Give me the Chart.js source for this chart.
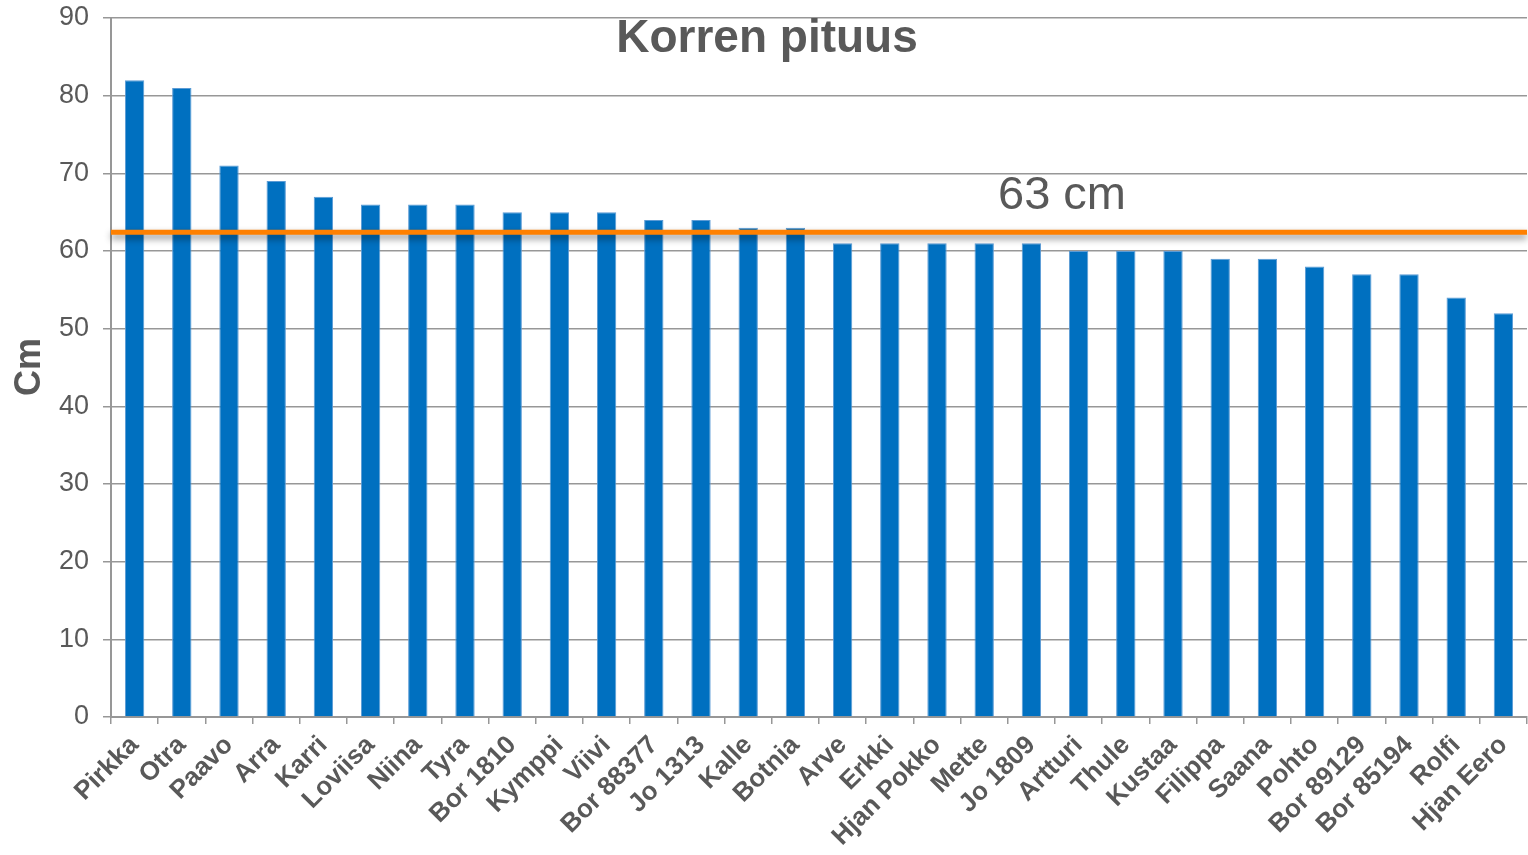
<!DOCTYPE html>
<html lang="fi">
<head>
    <meta charset="UTF-8">
    <title>Korren pituus</title>
    <script src="https://cdn.jsdelivr.net/npm/chart.js@4.4.0/dist/chart.umd.min.js"></script>
    <style>
        html, body { margin: 0; padding: 0; background: #ffffff; }
        #wrap { width: 1528px; height: 855px; position: relative; }
    </style>
</head>
<body>
<div id="wrap"><canvas id="chart"></canvas></div>
<script>
    // data
    var lajikkeet = ['Pirkka', 'Otra', 'Paavo', 'Arra', 'Karri', 'Loviisa', 'Niina', 'Tyra', 'Bor 1810', 'Kymppi',
        'Viivi', 'Bor 88377', 'Jo 1313', 'Kalle', 'Botnia', 'Arve', 'Erkki', 'Hjan Pokko', 'Mette', 'Jo 1809',
        'Artturi', 'Thule', 'Kustaa', 'Filippa', 'Saana', 'Pohto', 'Bor 89129', 'Bor 85194', 'Rolfi', 'Hjan Eero'];
    var pituus = [82, 81, 71, 69, 67, 66, 66, 66, 65, 65,
        65, 64, 64, 63, 63, 61, 61, 61, 61, 61,
        60, 60, 60, 59, 59, 58, 57, 57, 54, 52];
    var yTicks = [0, 10, 20, 30, 40, 50, 60, 70, 80, 90];
    var keskiarvo = 62.4;
    var keskiarvoTeksti = '63 cm';
    var otsikko = 'Korren pituus';
    var yOtsikko = 'Cm';

    var grey = '#595959';
    var lineGrey = '#979797';
    var fontFam = "Arial, 'Liberation Sans', sans-serif";

    // title, axis title and the orange reference line
    var extras = {
        id: 'extras',
        afterDatasetsDraw: function (chart) {
            var ctx = chart.ctx;
            var area = chart.chartArea;
            var y = chart.scales.y.getPixelForValue(keskiarvo);
            ctx.save();
            ctx.shadowColor = 'rgba(0,0,0,0.45)';
            ctx.shadowBlur = 7;
            ctx.shadowOffsetY = 4;
            ctx.strokeStyle = '#FF8000';
            ctx.lineWidth = 5;
            ctx.beginPath();
            ctx.moveTo(area.left, y);
            ctx.lineTo(area.right, y);
            ctx.stroke();
            ctx.restore();

            ctx.save();
            ctx.fillStyle = grey;
            ctx.textAlign = 'left';
            ctx.textBaseline = 'middle';
            ctx.font = '47px ' + fontFam;
            ctx.fillText(keskiarvoTeksti, 998, 196);

            ctx.textAlign = 'center';
            ctx.font = 'bold 46px ' + fontFam;
            ctx.fillText(otsikko, 767, 39);

            ctx.translate(30, 367);
            ctx.rotate(-Math.PI / 2);
            ctx.font = 'bold 36px ' + fontFam;
            ctx.fillText(yOtsikko, 0, 0);
            ctx.restore();
        }
    };

    new Chart(document.getElementById('chart').getContext('2d'), {
        type: 'bar',
        data: {
            labels: lajikkeet,
            datasets: [{
                data: pituus,
                backgroundColor: '#0070C0',
                borderColor: '#5B9BD5',
                borderWidth: 1,
                barPercentage: 0.41,
                categoryPercentage: 1
            }]
        },
        options: {
            responsive: true,
            maintainAspectRatio: false,
            animation: false,
            layout: { padding: { top: 18, right: 1, left: 0, bottom: 0 } },
            plugins: {
                legend: { display: false },
                title: { display: false },
                tooltip: { enabled: false }
            },
            scales: {
                x: {
                    afterFit: function (scale) {
                        scale.height = 138;
                        scale.paddingLeft = 0;
                        scale.paddingRight = 0;
                    },
                    grid: {
                        drawOnChartArea: false,
                        drawTicks: true,
                        tickLength: 7,
                        color: lineGrey,
                        lineWidth: 1.5
                    },
                    border: { color: lineGrey, width: 2 },
                    ticks: {
                        autoSkip: false,
                        minRotation: 45,
                        maxRotation: 45,
                        padding: 6,
                        color: grey,
                        font: { family: fontFam, size: 26, weight: 'bold' }
                    }
                },
                y: {
                    min: 0,
                    max: 90,
                    afterFit: function (scale) {
                        scale.width = 111;
                        scale.paddingTop = 0;
                        scale.paddingBottom = 0;
                    },
                    afterBuildTicks: function (scale) {
                        scale.ticks = yTicks.map(function (v) { return { value: v }; });
                    },
                    grid: {
                        color: lineGrey,
                        lineWidth: 1.5,
                        tickLength: 8
                    },
                    border: { color: lineGrey, width: 2 },
                    ticks: {
                        padding: 14,
                        color: grey,
                        font: { family: fontFam, size: 27 }
                    }
                }
            }
        },
        plugins: [extras]
    });
</script>
</body>
</html>
